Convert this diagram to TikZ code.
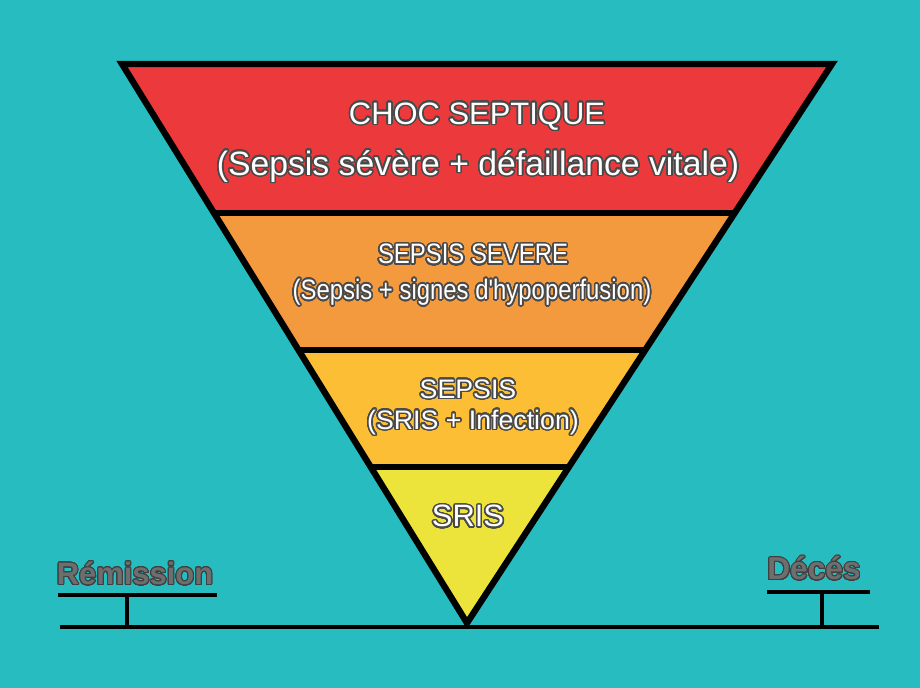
\documentclass[tikz,border=0pt]{standalone}
\usepackage{fontspec}
\usepackage[copies]{contour}
\setmainfont{Liberation Sans}
\newfontfamily\narrowfont[FakeStretch=0.85]{Liberation Sans}

\definecolor{fond}{HTML}{26BCC0}
\definecolor{rouge}{HTML}{EC3A3C}
\definecolor{orangeband}{HTML}{F49A3E}
\definecolor{jaunefonce}{HTML}{FBBE34}
\definecolor{jaune}{HTML}{ECE43A}
\definecolor{bord}{HTML}{4A4A4A}
\definecolor{grislabel}{HTML}{6E6E6E}

\contournumber{32}
\newcommand{\blanc}[1]{{\contourlength{1.1pt}\contour{bord}{\textcolor{white}{#1}}}}
\newcommand{\gris}[1]{{\contourlength{0.7pt}\contour{black!75}{\textcolor{grislabel}{#1}}}}

\tikzset{
  barre/.style={line width=3.2pt},
  separe/.style={line width=3.6pt},
  titre/.style={inner sep=0pt, align=center}
}

\begin{document}
\begin{tikzpicture}[x=0.025cm,y=-0.025cm]
\fill[fond] (0,0) rectangle (920,688);
\useasboundingbox (0,0) rectangle (920,688);

% sommets du triangle
\coordinate (hg) at (122,64);
\coordinate (hd) at (832,64);
\coordinate (pointe) at (467,623);

\begin{scope}
\clip (hg) -- (hd) -- (pointe) -- cycle;
\fill[rouge] (0,0) rectangle (920,213);
\fill[orangeband] (0,213) rectangle (920,350);
\fill[jaunefonce] (0,350) rectangle (920,467);
\fill[jaune] (0,467) rectangle (920,688);
\draw[separe] (0,213) -- (920,213);
\draw[separe] (0,350) -- (920,350);
\draw[separe] (0,467) -- (920,467);
\end{scope}
\draw[line width=4.5pt, line join=miter] (hg) -- (hd) -- (pointe) -- cycle;

% textes des niveaux
\node[titre] (choc) at (477,117) {\fontsize{22}{26}\selectfont\blanc{CHOC SEPTIQUE}};
\node[titre] (chocdef) at (478,167) {\fontsize{24}{28}\selectfont\blanc{(Sepsis sévère + défaillance vitale)}};
\node[titre] (severe) at (473,255) {\narrowfont\fontsize{20}{24}\selectfont\blanc{SEPSIS SEVERE}};
\node[titre] (severedef) at (472,293) {\narrowfont\fontsize{20}{24}\selectfont\blanc{(Sepsis + signes d'hypoperfusion)}};
\node[titre] (sepsis) at (468,390) {\fontsize{19}{23}\selectfont\blanc{SEPSIS}};
\node[titre] (sepsisdef) at (473,423) {\fontsize{19}{23}\selectfont\blanc{(SRIS + Infection)}};
\node[titre] (sris) at (468,517) {\fontsize{22}{26}\selectfont\blanc{SRIS}};

% axe remission / deces
\coordinate (solg) at (60,627);
\coordinate (sold) at (879,627);
\draw[barre] (solg) -- (sold);
\coordinate (remg) at (58,595);
\coordinate (remd) at (217,595);
\draw[barre] (remg) -- (remd);
\draw[barre] (127,595) -- (127,627);
\coordinate (decg) at (767,592);
\coordinate (decd) at (870,592);
\draw[barre] (decg) -- (decd);
\draw[barre] (822,592) -- (822,627);

\node[titre] (remission) at (135,574) {\bfseries\fontsize{22}{26}\selectfont\gris{Rémission}};
\node[titre] (deces) at (814,569) {\bfseries\fontsize{22.5}{26}\selectfont\gris{Décés}};
\end{tikzpicture}
\end{document}
